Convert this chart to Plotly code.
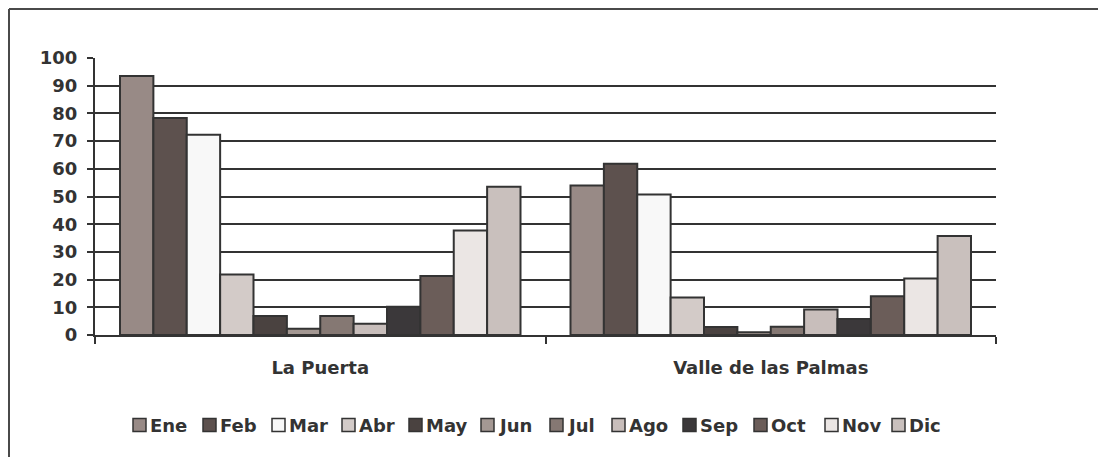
import plotly.graph_objects as go

# Monthly values per site
sites = ["La Puerta", "Valle de las Palmas"]
months = ["Ene", "Feb", "Mar", "Abr", "May", "Jun", "Jul", "Ago", "Sep", "Oct", "Nov", "Dic"]
la_puerta = [93.5, 78.3, 72.3, 21.8, 6.9, 2.3, 6.9, 4.1, 10.2, 21.3, 37.7, 53.5]
valle_palmas = [54.0, 61.8, 50.7, 13.5, 2.9, 1.0, 3.0, 9.2, 5.8, 14.0, 20.4, 35.7]
y_ticks = [0, 10, 20, 30, 40, 50, 60, 70, 80, 90, 100]

colors = ["#988a86", "#5d514e", "#f8f8f8", "#d3cbc8", "#4a4240", "#a49893",
          "#857873", "#c8bebb", "#3b383a", "#6b5d59", "#ebe6e4", "#c9c0bd"]

W, H = 1098, 457
ML, MR, MT, MB = 95, 102, 58, 122
PW, PH = W - ML - MR, H - MT - MB
FONT = "DejaVu Sans"
INK = "#333333"


def px_x(x):
    return (x - ML) / PW


def px_y(y):
    return (H - MB - y) / PH


fig = go.Figure()
for i, m in enumerate(months):
    fig.add_trace(go.Bar(
        name=m, x=sites, y=[la_puerta[i], valle_palmas[i]],
        marker=dict(color=colors[i], line=dict(color=INK, width=2)),
        showlegend=False,
    ))

shapes = [
    # outer frame (top and left edges)
    dict(type="line", xref="paper", yref="paper", x0=px_x(9), x1=px_x(W + 5), y0=px_y(9), y1=px_y(9),
         line=dict(color="#4a4a4a", width=2)),
    dict(type="line", xref="paper", yref="paper", x0=px_x(9), x1=px_x(9), y0=px_y(9), y1=px_y(H + 5),
         line=dict(color="#4a4a4a", width=2)),
]
annotations = []

# legend: small outlined squares followed by month names
legend_x = [133, 203, 272, 342, 409, 481, 550, 612, 683, 754, 825, 892]
sq = 13
ly = 425
for i, m in enumerate(months):
    x0 = legend_x[i]
    shapes.append(dict(type="rect", xref="paper", yref="paper",
                       x0=px_x(x0), x1=px_x(x0 + sq), y0=px_y(ly + sq / 2), y1=px_y(ly - sq / 2),
                       fillcolor=colors[i], line=dict(color=INK, width=1.5)))
    annotations.append(dict(xref="paper", yref="paper", x=px_x(x0 + sq + 2), y=px_y(ly),
                            text=m, showarrow=False, xanchor="left", yanchor="middle",
                            font=dict(family=FONT, size=18, color=INK, weight="bold")))

fig.update_layout(
    width=W, height=H,
    margin=dict(l=ML, r=MR, t=MT, b=MB),
    paper_bgcolor="white", plot_bgcolor="white",
    barmode="group", bargap=0.111, bargroupgap=0,
    showlegend=False,
    font=dict(family=FONT, size=17, color=INK),
    xaxis=dict(
        type="category", showline=True, linecolor=INK, linewidth=2,
        ticks="outside", tickson="boundaries", ticklen=7, tickwidth=2, tickcolor=INK,
        showgrid=False, tickfont=dict(family=FONT, size=18, color=INK, weight="bold"),
        ticklabelstandoff=15,
    ),
    yaxis=dict(
        range=[0, 100], tickvals=y_ticks, showline=True, linecolor=INK, linewidth=2,
        ticks="outside", ticklen=6, tickwidth=2, tickcolor=INK,
        showgrid=True, gridcolor=INK, gridwidth=2, zeroline=False,
        tickfont=dict(family=FONT, size=18, color=INK, weight="bold"),
        ticklabelstandoff=6,
    ),
    shapes=shapes, annotations=annotations,
)

fig.write_html("out.html")
